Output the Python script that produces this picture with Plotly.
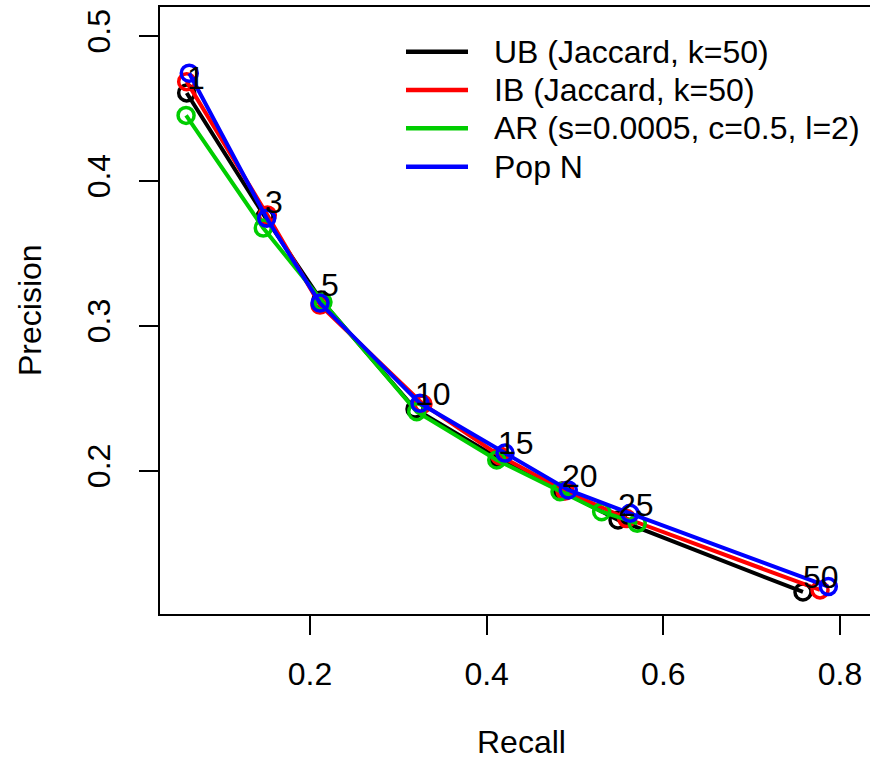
import plotly.graph_objects as go

k_labels = ["1", "3", "5", "10", "15", "20", "25", "50"]

ub_recall = [0.0604, 0.1490, 0.2125, 0.3189, 0.4128, 0.4853, 0.5487, 0.7581]
ub_precision = [0.4607, 0.3751, 0.3178, 0.2426, 0.2088, 0.1860, 0.1660, 0.1163]

ib_recall = [0.0604, 0.1517, 0.2113, 0.3279, 0.4151, 0.4887, 0.5585, 0.7774]
ib_precision = [0.4685, 0.3765, 0.3143, 0.2460, 0.2102, 0.1860, 0.1670, 0.1177]

ar_recall = [0.0597, 0.1471, 0.2147, 0.3208, 0.4114, 0.4830, 0.5302, 0.5705]
ar_precision = [0.4452, 0.3675, 0.3164, 0.2407, 0.2074, 0.1855, 0.1717, 0.1637]

pop_recall = [0.0633, 0.1510, 0.2113, 0.3245, 0.4208, 0.4924, 0.5623, 0.7868]
pop_precision = [0.4743, 0.3742, 0.3157, 0.2465, 0.2122, 0.1867, 0.1706, 0.1200]

series_names = ["UB (Jaccard, k=50)", "IB (Jaccard, k=50)", "AR (s=0.0005, c=0.5, l=2)", "Pop N"]
series_colors = ["#000000", "#FF0000", "#00CD00", "#0000FF"]

x_ticks = [0.2, 0.4, 0.6, 0.8]
y_ticks = [0.2, 0.3, 0.4, 0.5]

FONT = "Liberation Sans, Arial, Helvetica, sans-serif"
FS = 32

W, H = 870, 763
L, R, T, B = 160, 0, 7, 149
pw, ph = W - L - R, H - T - B

def px2paper(px, py):
    return (px - L) / pw, (H - B - py) / ph

fig = go.Figure()
data = [(ub_recall, ub_precision), (ib_recall, ib_precision),
        (ar_recall, ar_precision), (pop_recall, pop_precision)]
for (xs, ys), name, col in zip(data, series_names, series_colors):
    fig.add_trace(go.Scatter(
        x=xs, y=ys, mode="lines+markers", name=name,
        line=dict(color=col, width=4),
        marker=dict(symbol="circle-open", size=16, color=col, line=dict(width=3.5, color=col)),
        showlegend=False))

# point labels at the UB points
for x, y, t in zip(ub_recall, ub_precision, k_labels):
    fig.add_annotation(x=x, y=y, text=t, showarrow=False, xanchor="left", yanchor="bottom",
                       xshift=-2, yshift=-5, font=dict(family=FONT, size=FS, color="black"))

# legend (manual, to match long line keys)
row_y = [51.7, 90.0, 128.3, 166.7]
for name, col, ry in zip(series_names, series_colors, row_y):
    x0, y0 = px2paper(406, ry)
    x1, _ = px2paper(468, ry)
    fig.add_shape(type="line", xref="paper", yref="paper", x0=x0, x1=x1, y0=y0, y1=y0,
                  line=dict(color=col, width=4.5))
    tx, _ = px2paper(492, ry)
    fig.add_annotation(xref="paper", yref="paper", x=tx, y=y0, text=name, showarrow=False,
                       xanchor="left", yanchor="middle", font=dict(family=FONT, size=FS, color="black"))

# axis titles
ax, ay = px2paper(521, 742)
fig.add_annotation(xref="paper", yref="paper", x=ax, y=ay, text="Recall", showarrow=False,
                   xanchor="center", yanchor="middle", font=dict(family=FONT, size=FS, color="black"))
ax, ay = px2paper(30, 310)
fig.add_annotation(xref="paper", yref="paper", x=ax, y=ay, text="Precision", showarrow=False,
                   textangle=-90, xanchor="center", yanchor="middle",
                   font=dict(family=FONT, size=FS, color="black"))

xr0 = 0.2 + (L - 310) / 883.3
xr1 = 0.2 + (W - R - 310) / 883.3
yr0 = 0.2 - (H - B - 470.7) / 1449.0
yr1 = 0.5 + (36 - T) / 1449.0

fig.update_xaxes(range=[xr0, xr1], tickvals=x_ticks, ticktext=[str(v) for v in x_ticks],
                 showgrid=False, zeroline=False, showline=True, mirror=True,
                 linecolor="black", linewidth=2, ticks="outside", ticklen=19, tickwidth=2,
                 tickcolor="black", ticklabelstandoff=12,
                 tickfont=dict(family=FONT, size=FS, color="black"))
fig.update_yaxes(range=[yr0, yr1], tickvals=y_ticks, ticktext=[str(v) for v in y_ticks],
                 showgrid=False, zeroline=False, showline=True, mirror=False,
                 linecolor="black", linewidth=2, ticks="outside", ticklen=19, tickwidth=2,
                 tickcolor="black", tickangle=-90, ticklabelstandoff=16,
                 tickfont=dict(family=FONT, size=FS, color="black"))

fig.update_layout(width=W, height=H, margin=dict(l=L, r=R, t=T, b=B, autoexpand=False),
                  plot_bgcolor="white", paper_bgcolor="white", showlegend=False)

fig.write_html("out.html", config={"displayModeBar": False},
               post_script="document.body.style.margin='0';document.body.style.overflow='hidden';")
